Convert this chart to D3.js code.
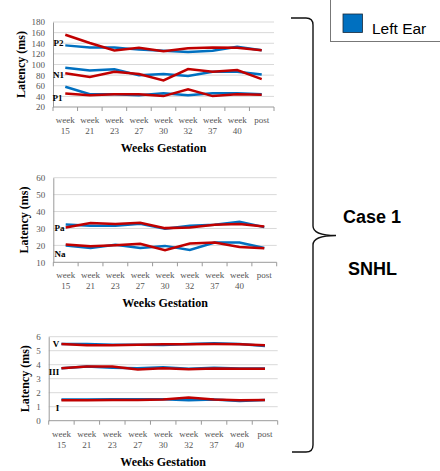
<!DOCTYPE html>
<html>
<head>
<meta charset="utf-8">
<script src="https://cdn.jsdelivr.net/npm/d3@7"></script>
<style>
	body { margin: 0; background: #fff; }
	svg { display: block; }
</style>
</head>
<body>
<div id="chart"></div>
<script>
// categories
const weeks = ["week 15", "week 21", "week 23", "week 27", "week 30", "week 32", "week 37", "week 40", "post"];

// panel 1 : cortical responses (ms)
const p2Left  = [136, 132, 132, 128, 126, 123.5, 126, 133.5, 127];
const p2Right = [156, 140.5, 126.5, 131.5, 125, 130.5, 132, 131.5, 127];
const n1Left  = [94, 88.5, 91, 80, 82, 78.5, 86.5, 86.5, 81];
const n1Right = [83.5, 76.5, 86.5, 82, 70, 91.5, 86.5, 89.5, 72.5];
const p1Left  = [58, 44, 44, 42, 46, 42, 46, 46, 44];
const p1Right = [45.5, 42, 44, 44, 40.5, 53.5, 40.5, 44, 43];

// panel 2 : middle latency (ms)
const paLeft  = [32.4, 31.6, 31.6, 32.8, 29.8, 31.6, 32.2, 34, 30.8];
const paRight = [30.6, 33.2, 32.6, 33.4, 30.2, 30.6, 32.2, 32.6, 31.2];
const naLeft  = [19.9, 18.5, 20.3, 18.5, 19.7, 17.3, 21.7, 21.7, 18.5];
const naRight = [20.5, 19.5, 20.1, 20.9, 17.1, 21.1, 21.7, 19.1, 18.3];

// panel 3 : brainstem (ms)
const vLeft    = [5.48, 5.48, 5.43, 5.43, 5.41, 5.48, 5.53, 5.48, 5.34];
const vRight   = [5.48, 5.39, 5.39, 5.43, 5.46, 5.46, 5.48, 5.46, 5.39];
const iiiLeft  = [3.75, 3.87, 3.78, 3.75, 3.82, 3.71, 3.78, 3.73, 3.73];
const iiiRight = [3.75, 3.87, 3.87, 3.66, 3.75, 3.68, 3.73, 3.71, 3.71];
const iLeft    = [1.51, 1.51, 1.53, 1.53, 1.53, 1.46, 1.51, 1.41, 1.48];
const iRight   = [1.46, 1.46, 1.48, 1.48, 1.51, 1.65, 1.51, 1.46, 1.48];

// tick values
const ticks1 = [20, 40, 60, 80, 100, 120, 140, 160, 180];
const ticks2 = [10, 20, 30, 40, 50, 60];
const ticks3 = [0, 1, 2, 3, 4, 5, 6];

const legendLabel = "Left Ear";
const caseLabels = ["Case 1", "SNHL"];

const blue = "#0070c0", red = "#c00000";
const serif = "Liberation Serif, DejaVu Serif, serif";
const sans = "Liberation Sans, Arial, sans-serif";

const panels = [
	{ x0: 53, x1: 274, yTop: 22, yBot: 107, domain: [20, 180], ticks: ticks1, titleX: 21,
	  series: [[p2Left, p2Right], [n1Left, n1Right], [p1Left, p1Right]],
	  labels: [["P2", 140, 58.5], ["N1", 80, 58.5], ["P1", 37, 57.5]] },
	{ x0: 53.3, x1: 276.7, yTop: 177.7, yBot: 262.3, domain: [10, 60], ticks: ticks2, titleX: 24,
	  series: [[paLeft, paRight], [naLeft, naRight]],
	  labels: [["Pa", 30.3, 59.5], ["Na", 15.2, 60]] },
	{ x0: 48.7, x1: 277.7, yTop: 336.7, yBot: 420.7, domain: [0, 6], ticks: ticks3, titleX: 25,
	  series: [[vLeft, vRight], [iiiLeft, iiiRight], [iLeft, iRight]],
	  labels: [["V", 5.46, 56], ["III", 3.5, 54], ["I", 0.94, 57.5]] }
];

const svg = d3.select("#chart").append("svg")
	.attr("width", 440)
	.attr("height", 471);

panels.forEach(function (p) {
	const g = svg.append("g");
	const x = d3.scaleBand().domain(weeks).range([p.x0, p.x1]);
	const y = d3.scaleLinear().domain(p.domain).range([p.yBot, p.yTop]);

	// gridlines
	g.selectAll(".grid")
		.data(p.ticks.slice(1))
		.enter().append("line")
		.attr("x1", p.x0).attr("x2", p.x1)
		.attr("y1", d => y(d)).attr("y2", d => y(d))
		.attr("stroke", "#d9d9d9").attr("stroke-width", 1);

	// y axis
	const yAxis = g.append("g")
		.attr("transform", "translate(" + p.x0 + ",0)")
		.call(d3.axisLeft(y).tickValues(p.ticks).tickFormat(d3.format("d")).tickSize(0).tickPadding(8));
	yAxis.attr("font-family", null).attr("font-size", null);
	yAxis.select(".domain").attr("stroke", "#9a9a9a");
	yAxis.selectAll("text")
		.style("font-family", serif).style("font-size", "9px").attr("fill", "#555");

	// x axis line + ticks at band boundaries
	g.append("line")
		.attr("x1", p.x0).attr("x2", p.x1)
		.attr("y1", p.yBot).attr("y2", p.yBot)
		.attr("stroke", "#9a9a9a");
	const bounds = weeks.map(d => x(d)).concat([p.x1]);
	g.selectAll(".xtick")
		.data(bounds)
		.enter().append("line")
		.attr("x1", d => d).attr("x2", d => d)
		.attr("y1", p.yBot).attr("y2", p.yBot + 4)
		.attr("stroke", "#9a9a9a");

	// x tick labels (two lines)
	const lab = g.selectAll(".xlab")
		.data(weeks)
		.enter().append("text")
		.attr("text-anchor", "middle")
		.style("font-family", serif).style("font-size", "9px").attr("fill", "#555");
	lab.each(function (d) {
		const parts = d.split(" ");
		const t = d3.select(this);
		parts.forEach(function (s, i) {
			t.append("tspan")
				.attr("x", x(d) + x.bandwidth() / 2)
				.attr("y", p.yBot + 16 + i * 11)
				.text(s);
		});
	});

	// axis titles
	g.append("text")
		.attr("x", (p.x0 + p.x1) / 2).attr("y", p.yBot + 45)
		.attr("text-anchor", "middle")
		.style("font-family", serif).style("font-weight", "bold").style("font-size", "12px")
		.text("Weeks Gestation");
	g.append("text")
		.attr("transform", "translate(" + p.titleX + "," + ((p.yTop + p.yBot) / 2) + ") rotate(-90)")
		.attr("text-anchor", "middle").attr("dy", "0.35em")
		.style("font-family", serif).style("font-weight", "bold").style("font-size", "12px")
		.text("Latency (ms)");

	// lines: left (blue) below right (red)
	const line = d3.line()
		.x((d, i) => x(weeks[i]) + x.bandwidth() / 2)
		.y(d => y(d));
	p.series.forEach(function (pair) {
		g.append("path").datum(pair[0])
			.attr("d", line).attr("fill", "none")
			.attr("stroke", blue).attr("stroke-width", 2.5);
		g.append("path").datum(pair[1])
			.attr("d", line).attr("fill", "none")
			.attr("stroke", red).attr("stroke-width", 2.5);
	});

	// series labels
	p.labels.forEach(function (l) {
		g.append("text")
			.attr("x", l[2]).attr("y", y(l[1]))
			.attr("dy", "0.35em").attr("text-anchor", "middle")
			.style("font-family", serif).style("font-weight", "bold").style("font-size", "9px")
			.text(l[0]);
	});
});

// legend box (cut by the top edge)
svg.append("rect")
	.attr("x", 330.5).attr("y", -10)
	.attr("width", 120).attr("height", 51.5)
	.attr("fill", "#fff").attr("stroke", "#777").attr("stroke-width", 1);
svg.append("rect")
	.attr("x", 343).attr("y", 14)
	.attr("width", 19.5).attr("height", 18.5)
	.attr("fill", blue).attr("stroke", "#1a2a3a").attr("stroke-width", 0.8);
svg.append("text")
	.attr("x", 372).attr("y", 34)
	.style("font-family", sans).style("font-size", "15.5px")
	.text(legendLabel);

// brace
svg.append("path")
	.attr("d", "M291,18 L306,18 Q313,18 313,25 L313,226 Q313,235.5 336,235.5 Q313,235.5 313,245 L313,445 Q313,452 306,452 L292,452")
	.attr("fill", "none").attr("stroke", "#111").attr("stroke-width", 1.4);

svg.selectAll(".case")
	.data(caseLabels)
	.enter().append("text")
	.attr("x", (d, i) => i === 0 ? 343 : 348)
	.attr("y", (d, i) => i === 0 ? 223 : 275)
	.style("font-family", sans).style("font-weight", "bold").style("font-size", "18px")
	.text(d => d);
</script>
</body>
</html>
